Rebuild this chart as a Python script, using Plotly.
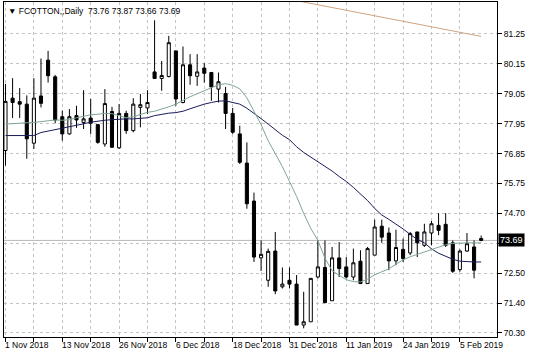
import plotly.graph_objects as go

# ---------------- data ----------------
bar_idx = list(range(68))

opens = [76.98, 78.90, 78.77, 78.68, 77.25, 78.98, 80.29, 79.68, 78.22, 77.59,
         78.26, 78.01, 78.17, 77.93, 77.22, 78.41, 77.08, 78.34, 77.71, 78.56,
         78.54, 79.86, 79.62, 79.69, 80.63, 78.74, 80.12, 79.70, 80.00, 79.84,
         79.23, 79.07, 78.34, 77.59, 76.52, 75.13, 73.05, 72.23, 73.30, 71.99,
         72.23, 72.09, 70.59, 70.71, 72.35, 72.70, 71.48, 73.05, 72.72, 72.35,
         72.93, 72.11, 73.15, 74.21, 73.96, 72.94, 73.36, 73.23, 74.00, 73.51,
         73.96, 74.24, 74.28, 73.60, 72.62, 73.30, 73.45, 73.76]
highs = [79.42, 79.63, 79.27, 79.00, 79.63, 80.35, 80.63, 79.75, 78.44, 78.50,
         78.62, 79.19, 78.87, 77.93, 79.23, 78.58, 78.68, 78.44, 78.90, 79.05,
         79.19, 81.75, 80.26, 81.18, 80.63, 80.79, 80.51, 80.51, 80.18, 79.84,
         79.84, 79.31, 78.54, 77.89, 77.28, 75.44, 73.69, 73.39, 74.00, 72.70,
         72.70, 72.42, 71.81, 72.30, 73.69, 73.69, 73.45, 73.63, 73.08, 73.39,
         73.33, 73.45, 74.45, 74.45, 74.16, 74.08, 73.76, 74.00, 74.00, 74.30,
         74.40, 74.69, 74.69, 73.69, 73.36, 73.96, 73.69, 73.87]
lows = [76.43, 78.17, 78.17, 76.68, 77.04, 78.56, 79.47, 77.98, 77.34, 77.56,
        77.81, 77.77, 77.59, 77.23, 77.12, 77.08, 77.04, 77.59, 77.65, 77.83,
        78.32, 79.62, 79.17, 79.66, 78.62, 78.71, 79.39, 79.35, 79.47, 78.80,
        78.74, 77.77, 77.59, 76.49, 74.85, 72.90, 72.57, 71.99, 71.72, 71.93,
        71.93, 70.59, 70.47, 70.71, 72.30, 71.41, 71.48, 72.35, 72.30, 72.23,
        72.09, 72.11, 73.15, 73.60, 72.60, 72.78, 72.90, 73.15, 73.08, 73.45,
        73.51, 73.88, 73.45, 72.50, 72.54, 73.27, 72.30, 73.66]
closes = [78.78, 78.74, 78.68, 77.41, 78.90, 78.71, 79.72, 78.10, 77.59, 78.22,
          78.10, 78.14, 77.98, 77.28, 78.70, 77.10, 78.34, 77.71, 78.68, 78.66,
          78.74, 79.62, 79.73, 80.93, 78.87, 80.12, 79.72, 79.86, 79.81, 79.31,
          79.50, 78.34, 77.65, 76.55, 75.03, 73.08, 73.18, 73.29, 71.84, 72.09,
          72.09, 70.59, 70.71, 72.30, 72.72, 71.41, 73.05, 72.66, 72.35, 72.87,
          72.11, 73.39, 74.18, 73.81, 72.94, 73.43, 73.03, 73.94, 73.60, 74.00,
          74.30, 74.06, 73.51, 72.56, 73.30, 73.57, 72.60, 73.69]

ma_fast = [77.95, 77.96, 77.98, 77.99, 78.01, 78.04, 78.07, 78.10, 78.09, 78.11,
           78.18, 78.24, 78.29, 78.31, 78.34, 78.33, 78.26, 78.18, 78.22, 78.31,
           78.38, 78.42, 78.49, 78.58, 78.68, 78.82, 78.95, 79.06, 79.17, 79.30,
           79.39, 79.43, 79.37, 79.24, 78.91, 78.42, 77.93, 77.34, 76.87, 76.39,
           75.85, 75.30, 74.68, 74.13, 73.69, 73.04, 72.58, 72.43, 72.25, 72.18,
           72.17, 72.27, 72.43, 72.54, 72.65, 72.82, 72.98, 73.09, 73.18, 73.26,
           73.35, 73.46, 73.53, 73.58, 73.60, 73.60, 73.60, 73.60]
ma_mid = [77.53, 77.53, 77.53, 77.53, 77.53, 77.64, 77.69, 77.75, 77.80, 77.85,
          77.91, 77.96, 78.02, 78.06, 78.09, 78.11, 78.13, 78.14, 78.14, 78.15,
          78.18, 78.26, 78.31, 78.35, 78.37, 78.42, 78.51, 78.60, 78.68, 78.74,
          78.79, 78.80, 78.75, 78.68, 78.53, 78.35, 78.15, 77.95, 77.75, 77.54,
          77.38, 77.12, 76.91, 76.74, 76.58, 76.43, 76.23, 76.03, 75.85, 75.63,
          75.39, 75.15, 74.86, 74.62, 74.46, 74.30, 74.11, 73.91, 73.73, 73.60,
          73.38, 73.22, 73.11, 73.00, 72.93, 72.91, 72.90, 72.90]
slow_idx = list(range(40, 68))
ma_slow = [82.52, 82.47, 82.42, 82.37, 82.32, 82.27, 82.22, 82.17, 82.12, 82.06,
           82.01, 81.96, 81.91, 81.86, 81.81, 81.76, 81.71, 81.66, 81.61, 81.56,
           81.51, 81.46, 81.41, 81.36, 81.31, 81.26, 81.21, 81.16]

date_idx = [0, 8, 16, 24, 32, 40, 48, 56, 64]
date_labels = ["1 Nov 2018", "13 Nov 2018", "26 Nov 2018", "6 Dec 2018", "18 Dec 2018",
               "31 Dec 2018", "11 Jan 2019", "24 Jan 2019", "5 Feb 2019"]
grid_idx = list(range(0, 68, 4))

price_ticks = [70.30, 71.395, 72.49, 73.585, 74.68, 75.775, 76.87, 77.965, 79.06, 80.155, 81.25]
price_labels = ["70.30", "71.40", "72.50", "", "74.70", "75.75", "76.85", "77.95", "79.05", "80.15", "81.25"]
bid = 73.69
title_text = "\u25bc FCOTTON,,Daily  73.76 73.87 73.66 73.69"

FONT = "Liberation Sans"

# ---------------- figure ----------------
fig = go.Figure()
fig.add_trace(go.Scatter(x=slow_idx, y=ma_slow, mode="lines",
                         line=dict(color="#cfa47c", width=1), hoverinfo="skip"))
fig.add_trace(go.Scatter(x=bar_idx, y=ma_mid, mode="lines",
                         line=dict(color="#1c1c5a", width=1), hoverinfo="skip"))
fig.add_trace(go.Scatter(x=bar_idx, y=ma_fast, mode="lines",
                         line=dict(color="#7fa595", width=1), hoverinfo="skip"))
fig.add_trace(go.Candlestick(
    x=bar_idx, open=opens, high=highs, low=lows, close=closes,
    increasing=dict(line=dict(color="black", width=1), fillcolor="white"),
    decreasing=dict(line=dict(color="black", width=1), fillcolor="black"),
    whiskerwidth=0,
))

# bid line
fig.add_shape(type="line", xref="paper", x0=0, x1=1, yref="y", y0=bid, y1=bid,
              line=dict(color="#b8b8b8", width=1), layer="below")

# bid label
fig.add_annotation(xref="paper", x=1, xanchor="left", xshift=1, yref="y", y=bid,
                   text="73.69", showarrow=False, bgcolor="black",
                   font=dict(family=FONT, size=9, color="white"), borderpad=1)

# date labels
for i, t in zip(date_idx, date_labels):
    fig.add_annotation(xref="x", x=i, xanchor="left", xshift=-2, yref="paper", y=0,
                       yanchor="top", yshift=-1, text=t, showarrow=False,
                       font=dict(family=FONT, size=8.5, color="black"))

# title
fig.add_annotation(xref="paper", x=0, xanchor="left", xshift=2, yref="paper", y=1,
                   yanchor="top", yshift=-2, text=title_text, showarrow=False,
                   font=dict(family=FONT, size=8.5, color="black"))

fig.update_layout(
    width=536, height=358,
    margin=dict(l=4, r=39, t=2, b=21),
    paper_bgcolor="white", plot_bgcolor="white",
    showlegend=False, boxgap=0.38,
    font=dict(family=FONT, size=8.5, color="black"),
)
fig.update_xaxes(
    range=[-0.21, 69.23], rangeslider=dict(visible=False),
    tickmode="array", tickvals=grid_idx, showticklabels=False,
    ticks="outside", ticklen=4, tickcolor="black",
    showgrid=True, gridcolor="#c4c4c4", griddash="3px,3px", gridwidth=1,
    showline=True, linecolor="black", linewidth=1, mirror=True, zeroline=False,
)
fig.update_yaxes(
    range=[70.153, 82.42], side="right",
    tickmode="array", tickvals=price_ticks, ticktext=price_labels,
    ticks="outside", ticklen=4, tickcolor="black",
    tickfont=dict(family=FONT, size=8.5, color="black"),
    showgrid=True, gridcolor="#c4c4c4", griddash="3px,3px", gridwidth=1,
    showline=True, linecolor="black", linewidth=1, mirror=True, zeroline=False,
)

fig.write_html("out.html")
